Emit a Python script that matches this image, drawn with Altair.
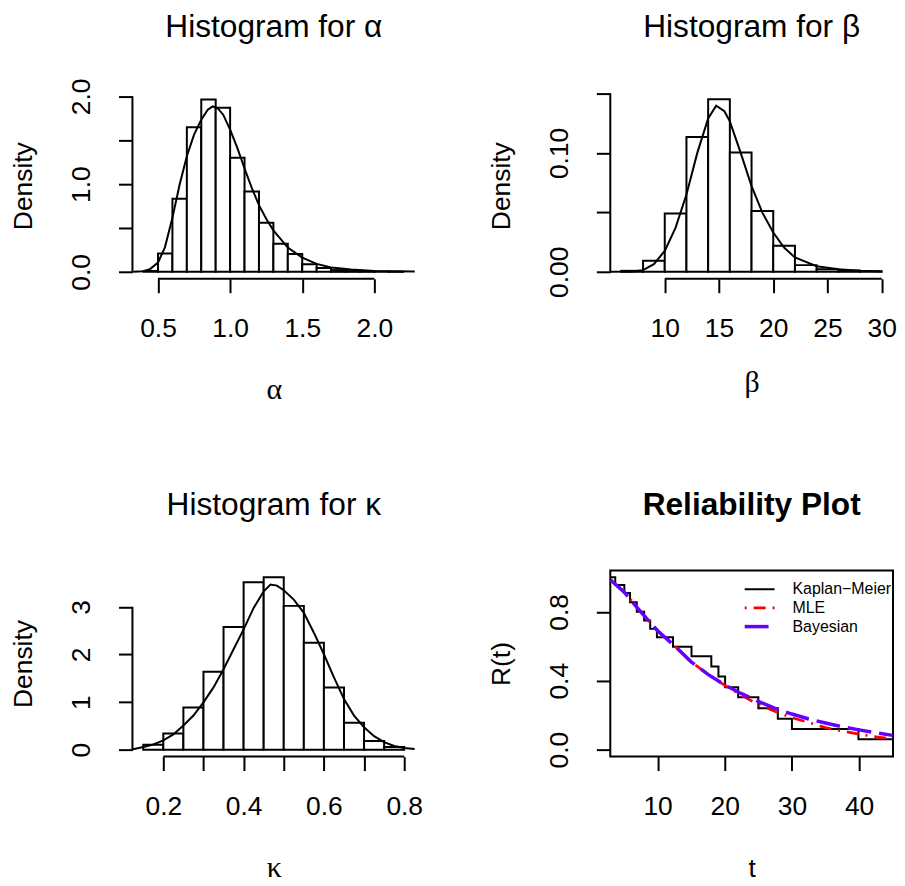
import altair as alt
import pandas as pd

FONT = "Liberation Sans"
GREEK_FONT = "Liberation Serif"
LAB = 26.5
TITLE = 31.8
W, H = 284, 187
PAD_L, PAD_T = 125, 83   # plot area of the first panel starts at (133, 91) on the page

# ---------------- data ----------------
# alpha histogram
alpha_lo = [0.4, 0.5, 0.6, 0.7, 0.8, 0.9, 1.0, 1.1, 1.2, 1.3, 1.4, 1.5, 1.6, 1.7, 1.8, 1.9, 2.0, 2.1]
alpha_hi = [0.5, 0.6, 0.7, 0.8, 0.9, 1.0, 1.1, 1.2, 1.3, 1.4, 1.5, 1.6, 1.7, 1.8, 1.9, 2.0, 2.1, 2.2]
alpha_den = [0.01, 0.208, 0.833, 1.65, 1.966, 1.87, 1.30, 0.917, 0.56, 0.32, 0.205, 0.087, 0.045,
             0.02, 0.01, 0.006, 0.003, 0.002]
alpha_cx = [0.328, 0.397, 0.443, 0.5, 0.548, 0.6, 0.65, 0.7, 0.75, 0.8, 0.845, 0.879, 0.913, 0.952,
            1.0, 1.05, 1.1, 1.15, 1.2, 1.25, 1.3, 1.4, 1.5, 1.6, 1.7, 1.84, 2.0, 2.28]
alpha_cy = [0.0, 0.008, 0.03, 0.106, 0.28, 0.617, 0.996, 1.318, 1.564, 1.735, 1.848, 1.886, 1.867, 1.792,
            1.621, 1.413, 1.178, 0.958, 0.761, 0.606, 0.473, 0.277, 0.163, 0.091, 0.049, 0.027, 0.011, 0.004]

# beta histogram
beta_lo = [6, 8, 10, 12, 14, 16, 18, 20, 22, 24, 26, 28]
beta_hi = [8, 10, 12, 14, 16, 18, 20, 22, 24, 26, 28, 30]
beta_den = [0.0008, 0.0092, 0.049, 0.1134, 0.145, 0.1003, 0.0511, 0.0218, 0.0056, 0.0022, 0.001, 0.0005]
beta_cx = [5.0, 7.0, 8.0, 9.0, 10.0, 11.0, 12.0, 13.0, 14.0, 14.74, 15.5, 16.0, 17.0, 18.0, 19.0,
           20.0, 21.0, 22.0, 24.0, 26.0, 28.0, 30.0]
beta_cy = [0.0, 0.0003, 0.0014, 0.0064, 0.0176, 0.0372, 0.065, 0.1, 0.129, 0.1397, 0.135, 0.1265, 0.1,
           0.072, 0.0497, 0.033, 0.0204, 0.012, 0.0047, 0.0022, 0.0008, 0.0003]

# kappa histogram
kappa_lo = [0.15, 0.20, 0.25, 0.30, 0.35, 0.40, 0.45, 0.50, 0.55, 0.60, 0.65, 0.70, 0.75]
kappa_hi = [0.20, 0.25, 0.30, 0.35, 0.40, 0.45, 0.50, 0.55, 0.60, 0.65, 0.70, 0.75, 0.80]
kappa_den = [0.104, 0.341, 0.884, 1.635, 2.575, 3.514, 3.619, 3.02, 2.248, 1.308, 0.564, 0.181, 0.056]
kappa_cx = [0.122, 0.15, 0.175, 0.2, 0.225, 0.25, 0.275, 0.3, 0.325, 0.35, 0.375, 0.4, 0.425, 0.45,
            0.467, 0.483, 0.5, 0.525, 0.55, 0.575, 0.6, 0.625, 0.65, 0.675, 0.7, 0.725, 0.75, 0.775,
            0.8, 0.826]
kappa_cy = [0.005, 0.056, 0.11, 0.195, 0.32, 0.508, 0.717, 0.995, 1.308, 1.69, 2.11, 2.526, 2.978, 3.326,
            3.466, 3.445, 3.347, 3.152, 2.874, 2.457, 2.004, 1.517, 1.065, 0.717, 0.473, 0.285, 0.16,
            0.077, 0.035, 0.014]

# reliability
km_t = [0.0, 3.7, 5.05, 5.9, 6.9, 8.0, 8.9, 9.9, 12.3, 15.05, 18.0, 19.06, 20.05, 22.0, 25.0, 27.9,
        30.0, 39.9, 46.0]
km_s = [1.0, 0.956, 0.909, 0.855, 0.801, 0.749, 0.701, 0.653, 0.598, 0.542, 0.483, 0.425, 0.363,
        0.305, 0.241, 0.18, 0.12, 0.06, 0.06]
rel_t = [3, 5, 7.5, 10, 12.5, 15, 17.5, 20, 22.5, 25, 27.5, 30, 32.5, 35, 37.5, 40, 42.5, 45]
mle_r = [0.985, 0.915, 0.80, 0.69, 0.604, 0.51, 0.437, 0.374, 0.315, 0.262, 0.222, 0.186, 0.158,
         0.128, 0.108, 0.09, 0.075, 0.062]
bayes_r = [0.985, 0.915, 0.80, 0.69, 0.604, 0.51, 0.437, 0.376, 0.325, 0.28, 0.24, 0.207, 0.178,
           0.155, 0.133, 0.115, 0.098, 0.083]
methods = ["Kaplan\u2212Meier", "MLE", "Bayesian"]
method_colors = ["black", "#ff0000", "#6400ff"]


def label_expr(shown):
    cond = " || ".join(f"abs(datum.value - ({v})) < 1e-6" for v in shown)
    return f"({cond}) ? datum.label : ''"


def axis(orient, values, fmt, shown, title, title_font=FONT, title_size=LAB, title_y=120.5):
    common = dict(
        values=values, format=fmt, labelExpr=label_expr(shown), domain=False,
        ticks=True, tickSize=14, tickWidth=2, tickColor="black", grid=False,
        labelFont=FONT, labelFontSize=LAB, labelColor="black", labelOverlap=False,
        labelFlush=False, title=title, titleFont=title_font, titleFontSize=title_size,
        titleFontWeight="normal", titleColor="black",
    )
    if orient == "bottom":
        return alt.Axis(labelAngle=0, labelAlign="center", labelBaseline="alphabetic",
                        labelPadding=43.7, titleBaseline="alphabetic", titleY=title_y,
                        titleX=W / 2, titleAlign="center", **common)
    return alt.Axis(labelAngle=270, labelAlign="center", labelBaseline="alphabetic",
                    labelPadding=28.8, titleAngle=270, titleBaseline="alphabetic",
                    titleX=-101, titleY=H / 2, titleAlign="center", **common)


def title_layer(text, bold=False):
    return alt.Chart(pd.DataFrame({"t": [text]})).mark_text(
        font=FONT, fontSize=TITLE, fontWeight="bold" if bold else "normal",
        align="center", baseline="alphabetic", color="black",
    ).encode(text="t:N", x=alt.value(W / 2), y=alt.value(-56))


def hist_panel(lo, hi, den, cx, cy, xdom, ydom, xticks, xshown, xfmt, yticks, yshown, yfmt,
               ttl, xtitle, xtitle_y=120.5):
    xs = alt.Scale(domain=xdom, nice=False, zero=False)
    ys = alt.Scale(domain=ydom, nice=False, zero=False)
    bars_df = pd.DataFrame({"lo": lo, "hi": hi, "den": den})
    curve_df = pd.DataFrame({"x": cx, "y": cy})
    bars = alt.Chart(bars_df).mark_rect(fill="white", stroke="black", strokeWidth=2).encode(
        x=alt.X("lo:Q", scale=xs,
                axis=axis("bottom", xticks, xfmt, xshown, xtitle, GREEK_FONT, 30, xtitle_y)),
        x2="hi:Q",
        y=alt.Y("den:Q", scale=ys, axis=axis("left", yticks, yfmt, yshown, "Density")),
        y2=alt.datum(0),
    )
    curve = alt.Chart(curve_df).mark_line(color="black", strokeWidth=2).encode(
        x="x:Q", y="y:Q")
    xline = alt.Chart(pd.DataFrame({"a": [xticks[0]], "b": [xticks[-1]]})).mark_rule(
        color="black", strokeWidth=2).encode(x="a:Q", x2="b:Q", y=alt.datum(ydom[0]))
    yline = alt.Chart(pd.DataFrame({"a": [yticks[0]], "b": [yticks[-1]]})).mark_rule(
        color="black", strokeWidth=2).encode(y="a:Q", y2="b:Q", x=alt.datum(xdom[0]))
    return alt.layer(bars, curve, xline, yline, title_layer(ttl)).properties(width=W, height=H)


p1 = hist_panel(alpha_lo, alpha_hi, alpha_den, alpha_cx, alpha_cy, [0.3228, 2.283], [-0.0786, 2.044],
                [0.5, 1.0, 1.5, 2.0], [0.5, 1.0, 1.5, 2.0], ".1f",
                [0.0, 0.5, 1.0, 1.5, 2.0], [0.0, 1.0, 2.0], ".1f",
                "Histogram for \u03b1", "\u03b1")
p2 = hist_panel(beta_lo, beta_hi, beta_den, beta_cx, beta_cy, [4.98, 31.04], [-0.00586, 0.1507],
                [10, 15, 20, 25, 30], [10, 15, 20, 25, 30], "d",
                [0.0, 0.05, 0.10, 0.15], [0.0, 0.10], ".2f",
                "Histogram for \u03b2", "\u03b2", xtitle_y=113.5)
p3 = hist_panel(kappa_lo, kappa_hi, kappa_den, kappa_cx, kappa_cy, [0.1231, 0.8273], [-0.1448, 3.764],
                [0.2, 0.3, 0.4, 0.5, 0.6, 0.7, 0.8], [0.2, 0.4, 0.6, 0.8], ".1f",
                [0, 1, 2, 3], [0, 1, 2, 3], "d",
                "Histogram for \u03ba", "\u03ba")

# reliability panel
xs4 = alt.Scale(domain=[2.96, 45.05], nice=False, zero=False)
ys4 = alt.Scale(domain=[-0.04, 1.04], nice=False, zero=False)
legend = alt.Legend(orient="none", legendX=142, legendY=11, title=None, padding=0,
                    symbolType="M-3,0H3", symbolSize=100, labelFont=FONT, labelFontSize=16,
                    labelColor="black", labelOffset=25, rowPadding=2.7, symbolFillColor="transparent")
col_enc = alt.Color("method:N", scale=alt.Scale(domain=methods, range=method_colors), legend=legend)
dash_enc = alt.StrokeDash("method:N", scale=alt.Scale(domain=methods,
                          range=[[1, 0], [2, 7, 12, 7], [24, 8]]), legend=legend)
width_enc = alt.StrokeWidth("method:N", scale=alt.Scale(domain=methods, range=[2, 3.5, 4.5]),
                            legend=legend)

km_df = pd.DataFrame({"t": km_t, "r": km_s, "method": methods[0]})
mle_df = pd.DataFrame({"t": rel_t, "r": mle_r, "method": methods[1]})
bay_df = pd.DataFrame({"t": rel_t, "r": bayes_r, "method": methods[2]})

km = alt.Chart(km_df).mark_line(interpolate="step-after", clip=True).encode(
    x=alt.X("t:Q", scale=xs4, axis=axis("bottom", [10, 20, 30, 40], "d", [10, 20, 30, 40], "t")),
    y=alt.Y("r:Q", scale=ys4, axis=axis("left", [0, 0.2, 0.4, 0.6, 0.8, 1.0], ".1f",
                                        [0, 0.4, 0.8], "R(t)")),
    color=col_enc, strokeDash=dash_enc, strokeWidth=width_enc,
)
mle = alt.Chart(mle_df).mark_line(clip=True).encode(
    x="t:Q", y="r:Q", color=col_enc, strokeDash=dash_enc, strokeWidth=width_enc)
bay = alt.Chart(bay_df).mark_line(clip=True).encode(
    x="t:Q", y="r:Q", color=col_enc, strokeDash=dash_enc, strokeWidth=width_enc)

p4 = alt.layer(km, mle, bay, title_layer("Reliability Plot", bold=True)).properties(
    width=W, height=H,
    view=alt.ViewBackground(stroke="black", strokeWidth=2, fill="white"),
)

chart = alt.concat(p1, p2, p3, p4, columns=2, spacing=alt.RowColnumber(row=293, column=196),
                   bounds="flush").resolve_scale(
    color="independent", strokeDash="independent", strokeWidth="independent"
).resolve_legend(
    color="independent", strokeDash="independent", strokeWidth="independent"
).properties(
    autosize=alt.AutoSizeParams(type="none"),
    padding={"left": PAD_L, "top": PAD_T, "right": 0, "bottom": 0},
    params=[alt.VariableParameter(name="width", value=893 - PAD_L),
            alt.VariableParameter(name="height", value=877 - PAD_T)],
    background="white",
).configure_view(stroke=None)

chart.save("out.html", embed_options={"renderer": "svg", "actions": False})
